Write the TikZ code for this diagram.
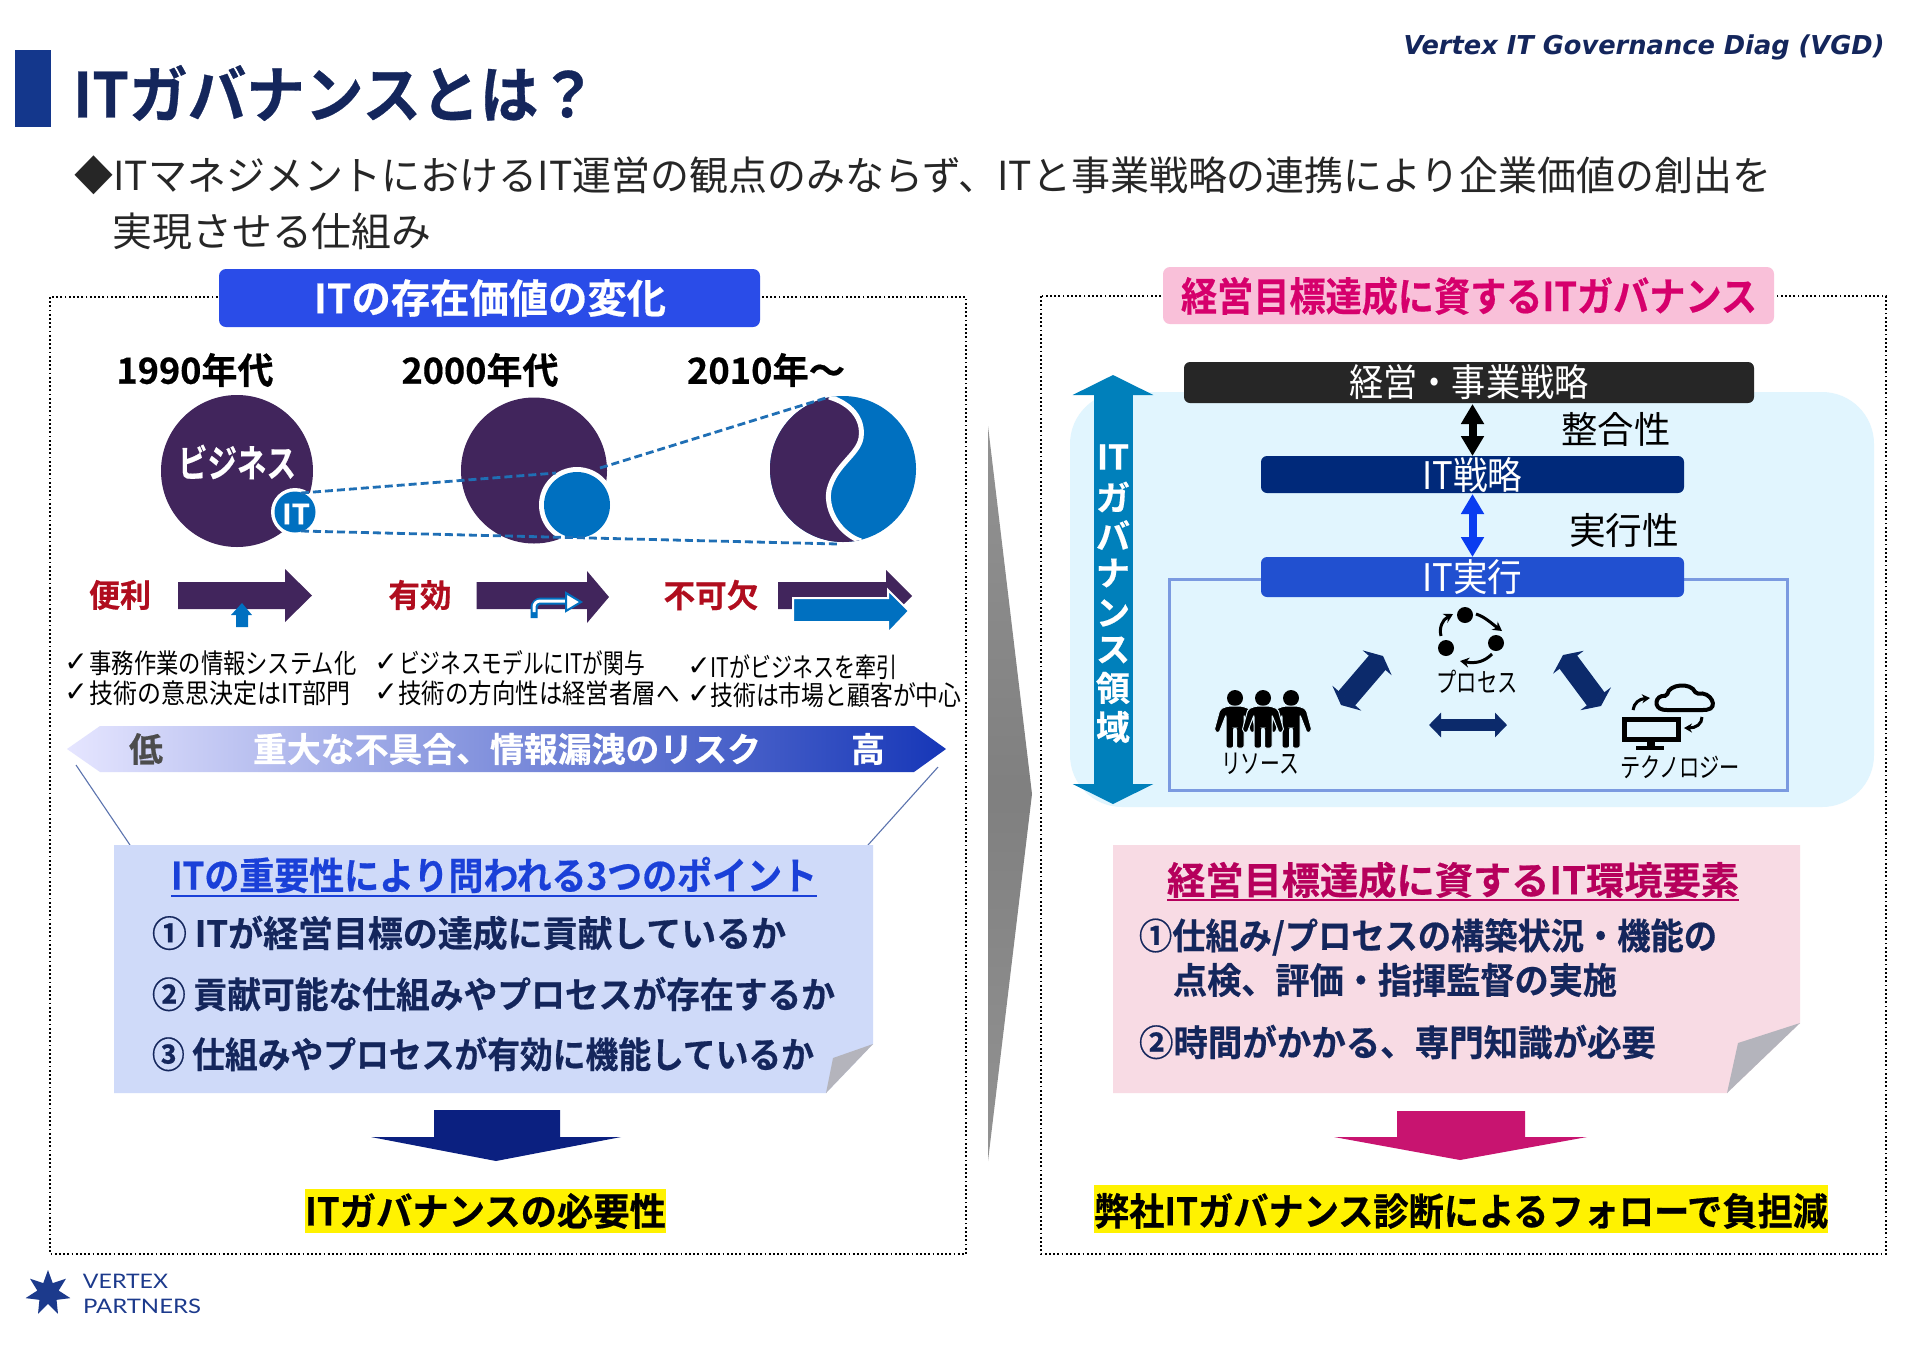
\documentclass[tikz,border=0pt]{standalone}
\usepackage{fontspec}
\usepackage{graphicx}
\usetikzlibrary{arrows.meta,shapes.geometric}
\setmainfont{Noto Sans CJK JP}[BoldFont=* Bold,BoldFeatures={FakeBold=0.5}]
\newfontfamily\djv{DejaVu Sans}
\newfontfamily\vgd{DejaVu Sans}[BoldItalicFont=* Bold Oblique]
\newfontfamily\lato{Lato}
\newcommand\F[3]{\fontsize{#2pt}{#2pt}\selectfont\resizebox{#1pt}{\height}{#3}}
\definecolor{titlebar}{HTML}{14378C}
\definecolor{navy}{HTML}{14265C}
\definecolor{purp}{HTML}{41255C}
\definecolor{itblue}{HTML}{0070C0}
\definecolor{darkred}{HTML}{B00D1E}
\definecolor{lnote}{HTML}{CFDAF9}
\definecolor{rnote}{HTML}{F8DBE4}
\definecolor{panel}{HTML}{E1F5FE}
\definecolor{deep}{HTML}{0C2A6B}
\definecolor{vbar}{HTML}{0080BB}
\definecolor{lhead}{HTML}{2A4CE8}
\definecolor{rhead}{HTML}{F9C0D9}
\definecolor{rheadtx}{HTML}{D6006C}
\definecolor{bar1}{HTML}{262626}
\definecolor{bar2}{HTML}{00297A}
\definecolor{bar3}{HTML}{2150D0}
\definecolor{frameb}{HTML}{7B9AE0}
\definecolor{ulblue}{HTML}{1A40D8}
\definecolor{magarrow}{HTML}{C81470}
\definecolor{downnavy}{HTML}{0B2080}
\definecolor{foldg}{HTML}{B4B4BC}
\definecolor{logoblue}{HTML}{1C3A8C}
\definecolor{arrblue}{HTML}{0A3CF0}
\definecolor{dashc}{HTML}{1F6FB5}
\tikzset{
 tx/.style={inner sep=0pt,outer sep=0pt,anchor=center},
 bx/.style={tx,font=\bfseries},
 wt/.style={bx,text=white},
 dotbox/.style={draw=black,line width=1.8pt,dash pattern=on 1.8pt off 2.4pt},
 dashlink/.style={draw=dashc,line width=2.8pt,dash pattern=on 8pt off 4pt},
 barbox/.style={rounded corners=6pt,minimum height=#1,inner sep=0pt,outer sep=0pt,anchor=center,text=white},
}
\newcommand\person[1]{%
\begin{scope}[shift={(#1,706)}]
 \fill[black] (0,-8) circle (8pt);
 \path[fill=black,draw=panel,line width=1pt,rounded corners=2pt] (-7,0) -- (7,0) -- (15,3) -- (21,25) -- (16,27) -- (9,9) -- (9,42) -- (1.5,42) -- (1.5,22) -- (-1.5,22) -- (-1.5,42) -- (-9,42) -- (-9,9) -- (-16,27) -- (-21,25) -- (-15,3) -- cycle;
\end{scope}}
\newcommand\dbl[6]{% from,to,col,shaftw,headw,headlen
 \draw[#3,line width=#4,{Triangle[width=#5,length=#6]}-{Triangle[width=#5,length=#6]}] (#1) -- (#2);}
\begin{document}
\begin{tikzpicture}[x=1pt,y=-1pt]
\useasboundingbox (0,0) rectangle (1910,1350);
\fill[white] (0,0) rectangle (1910,1350);
% title
\fill[titlebar] (15,50) rectangle (51,127);
\node[bx,text=navy] (title) at (335,93) {\F{524}{62}{ITガバナンスとは？}};
\node[tx,text=navy,font=\vgd\bfseries\itshape] (hdr) at (1644,47) {\F{481}{26}{Vertex IT Governance Diag (VGD)}};
\node[tx,text=black!85] (sub1) at (923,175) {\F{1697}{40}{◆ITマネジメントにおけるIT運営の観点のみならず、ITと事業戦略の連携により企業価値の創出を}};
\node[tx,text=black!85] (sub2) at (272,231) {\F{319}{40}{実現させる仕組み}};
% outer boxes
\path[dotbox] (50,297) rectangle (966,1254);
\path[dotbox] (1041,296) rectangle (1886,1254);
% left header
\fill[lhead,rounded corners=7pt] (219,269) rectangle (760,327);
\node[wt] (lh) at (490,298) {\F{352}{40}{ITの存在価値の変化}};
% right header
\fill[rhead,rounded corners=7pt] (1163,267) rectangle (1774,324);
\node[bx,text=rheadtx] (rh) at (1469,296) {\F{576}{40}{経営目標達成に資するITガバナンス}};
% years
\node[bx,text=black] (y1) at (195,370) {\F{157}{36}{1990年代}};
\node[bx,text=black] (y2) at (480,370) {\F{157}{36}{2000年代}};
\node[bx,text=black] (y3) at (766,370) {\F{158}{36}{2010年～}};
% circles
\fill[purp] (237,471) circle (76pt);
\fill[white] (295,512) circle (24pt);
\fill[itblue] (295,512) circle (20.5pt);
\node[wt] (bz) at (237,462) {\F{118}{38}{ビジネス}};
\node[wt] (it0) at (296,514) {\F{28}{28}{IT}};
\fill[purp] (534,470.5) circle (73pt);
\fill[white] (577,505) circle (38pt);
\fill[itblue] (577,505) circle (33pt);
% third circle
\fill[itblue] (843,469) circle (73pt);
\begin{scope}
 \clip (843,469) circle (73pt);
 \fill[purp] (740,380) -- (829,397) .. controls (850,403) and (864,418) .. (861,438) .. controls (858,455) and (835,465) .. (829,490) .. controls (825,512) and (842,535) .. (861,541) -- (861,560) -- (740,560) -- cycle;
 \draw[white,line width=5pt] (829,397) .. controls (850,403) and (864,418) .. (861,438) .. controls (858,455) and (835,465) .. (829,490) .. controls (825,512) and (842,535) .. (861,541);
\end{scope}
% dashed
\coordinate (a1) at (301,493); \coordinate (a2) at (556,473);
\coordinate (a3) at (600,468); \coordinate (a4) at (829,397);
\coordinate (b1) at (301,531); \coordinate (b2) at (838,544);
\path[dashlink] (a1) -- (a2);
\path[dashlink] (a3) -- (a4);
\path[dashlink] (b1) -- (b2);
% labels row
\node[bx,text=darkred] (l1) at (120,595) {\F{62}{32}{便利}};
\node[bx,text=darkred] (l2) at (420,595) {\F{63}{32}{有効}};
\node[bx,text=darkred] (l3) at (711,595) {\F{95}{32}{不可欠}};
% block arrows
\fill[purp] (178,582) -- (285,582) -- (285,569) -- (312,595.5) -- (285,622) -- (285,609) -- (178,609) -- cycle;
\fill[itblue] (236,627) -- (236,615) -- (231,615) -- (242,603) -- (252,615) -- (248,615) -- (248,627) -- cycle;
\fill[purp] (476.5,582) -- (587,582) -- (587,571) -- (609,597) -- (587,623) -- (587,609) -- (476.5,609) -- cycle;
\draw[itblue,line width=7pt,rounded corners=7pt] (534,618) -- (534,601) -- (566,601);
\draw[white,line width=3pt,rounded corners=6pt] (534,612) -- (534,601) -- (568,601);
\path[fill=white,draw=itblue,line width=2pt] (566,593) -- (581,602) -- (566,611) -- cycle;
\fill[purp] (778,582) -- (886,582) -- (886,570) -- (912,596) -- (886,622) -- (886,609) -- (778,609) -- cycle;
\path[fill=itblue,draw=white,line width=2pt] (793,598) -- (888,598) -- (888,590) -- (909,611) -- (888,633) -- (888,622) -- (793,622) -- cycle;
% checks
\node[tx,font=\djv] (c1) at (76,663) {\fontsize{28pt}{28pt}\selectfont ✓};
\node[tx,font=\djv] (c2) at (76,693) {\fontsize{28pt}{28pt}\selectfont ✓};
\node[tx] (t1) at (223,663) {\F{267}{27}{事務作業の情報システム化}};
\node[tx] (t2) at (220,693) {\F{261}{27}{技術の意思決定はIT部門}};
\node[tx,font=\djv] (c3) at (386,663) {\fontsize{28pt}{28pt}\selectfont ✓};
\node[tx,font=\djv] (c4) at (386,693) {\fontsize{28pt}{28pt}\selectfont ✓};
\node[tx] (t3) at (522,663) {\F{246}{27}{ビジネスモデルにITが関与}};
\node[tx] (t4) at (539,693) {\F{281}{27}{技術の方向性は経営者層へ}};
\node[tx,font=\djv] (c5) at (699,667) {\fontsize{28pt}{28pt}\selectfont ✓};
\node[tx,font=\djv] (c6) at (699,695) {\fontsize{28pt}{28pt}\selectfont ✓};
\node[tx] (t5) at (804,667) {\F{187}{27}{ITがビジネスを牽引}};
\node[tx] (t6) at (836,695) {\F{251}{27}{技術は市場と顧客が中心}};
% banner
\shade[left color=blue!10!white,right color=ulblue!85!black] (67,749) -- (100,726) -- (914,726) -- (946,749) -- (914,772) -- (100,772) -- cycle;
\node[bx,text=black!70] (lo) at (146,749) {\F{34}{34}{低}};
\node[wt] (risk) at (507,749) {\F{508}{34}{重大な不具合、情報漏洩のリスク}};
\node[wt] (hi) at (868,749) {\F{34}{34}{高}};
% thin lines
\coordinate (ln1) at (76,765); \coordinate (ln2) at (130,845);
\coordinate (ln3) at (938,767); \coordinate (ln4) at (868,845);
\draw[titlebar!70,line width=1.1pt] (ln1) -- (ln2);
\draw[titlebar!70,line width=1.1pt] (ln3) -- (ln4);
% left note
\fill[lnote] (114,845) -- (873,845) -- (873,1044) -- (826,1093) -- (114,1093) -- cycle;
\fill[foldg] (873,1044) -- (826,1093) -- (833,1058) -- cycle;
\node[bx,text=ulblue] (ln) at (494,875) {\F{646}{38}{ITの重要性により問われる3つのポイント}};
\draw[ulblue,line width=2.2pt] (171,896) -- (817,896);
\node[bx,text=navy] (li1) at (469,933) {\F{634}{36}{① ITが経営目標の達成に貢献しているか}};
\node[bx,text=navy] (li2) at (493.5,994) {\F{683}{36}{② 貢献可能な仕組みやプロセスが存在するか}};
\node[bx,text=navy] (li3) at (483,1054) {\F{662}{36}{③ 仕組みやプロセスが有効に機能しているか}};
% left down arrow
\fill[downnavy] (434,1110) -- (560,1110) -- (560,1137) -- (621,1137) -- (496,1161) -- (371,1137) -- (434,1137) -- cycle;
\fill[yellow] (305,1189) rectangle (666,1233);
\node[bx,text=black] (need) at (485.5,1211) {\F{361}{38}{ITガバナンスの必要性}};
% big grey chevron
\shade[top color=gray!85,bottom color=gray!85,middle color=gray] (988,426) -- (1032,794) -- (988,1161) -- cycle;
% right panel
\fill[panel,rounded corners=52pt] (1070,392) rectangle (1874,807);
% vertical arrow
\coordinate (va) at (1113,375); \coordinate (vb) at (1113,804);
\dbl{va}{vb}{vbar}{39pt}{80pt}{20pt}
\node[wt] (v0) at (1113,457) {\F{32}{34}{IT}};
\node[wt] (v1) at (1113,497) {\fontsize{34pt}{34pt}\selectfont ガ};
\node[wt] (v2) at (1113,535) {\fontsize{34pt}{34pt}\selectfont バ};
\node[wt] (v3) at (1113,573) {\fontsize{34pt}{34pt}\selectfont ナ};
\node[wt] (v4) at (1113,613) {\fontsize{34pt}{34pt}\selectfont ン};
\node[wt] (v5) at (1113,650) {\fontsize{34pt}{34pt}\selectfont ス};
\node[wt] (v6) at (1113,688) {\fontsize{34pt}{34pt}\selectfont 領};
\node[wt] (v7) at (1113,727) {\fontsize{34pt}{34pt}\selectfont 域};
% frame
\draw[frameb,line width=3pt] (1169,579) rectangle (1787,790);
% bars
\node[barbox=41pt,fill=bar1,minimum width=570pt] (bar1n) at (1469,382.5) {\F{239}{38}{経営・事業戦略}};
\node[barbox=37pt,fill=bar2,minimum width=423pt] (bar2n) at (1472.5,474.5) {\F{100}{38}{IT戦略}};
\node[barbox=40pt,fill=bar3,minimum width=423pt] (bar3n) at (1472.5,577) {\F{100}{38}{IT実行}};
\coordinate (ac1) at (1472.5,404); \coordinate (ac2) at (1472.5,456);
\coordinate (ac3) at (1472.5,494); \coordinate (ac4) at (1472.5,557);
\dbl{ac1}{ac2}{black}{8pt}{22pt}{20pt}
\dbl{ac3}{ac4}{arrblue}{8pt}{22pt}{20pt}
\node[tx,text=black] (seigo) at (1616,429) {\F{109}{37}{整合性}};
\node[tx,text=black] (jikko) at (1624,530) {\F{110}{37}{実行性}};
\node[tx,text=black] (prc) at (1477,682) {\F{81}{27}{プロセス}};
\node[tx,text=black] (res) at (1260,764) {\F{78}{27}{リソース}};
\node[tx,text=black] (tec) at (1680,767) {\F{120}{27}{テクノロジー}};
% process icon
\begin{scope}[xshift=-3pt]
\fill[black] (1468,615) circle (8pt);
\fill[black] (1499,643) circle (8pt);
\fill[black] (1449,648) circle (8pt);
\draw[black,line width=3pt,-{Stealth[length=9pt,width=10pt]}] (1479,614) .. controls (1488,617) and (1494,623) .. (1505,631);
\draw[black,line width=3pt,-{Stealth[length=9pt,width=10pt]}] (1495,654) .. controls (1488,661) and (1480,664) .. (1463,661);
\draw[black,line width=3pt,-{Stealth[length=9pt,width=10pt]}] (1444,636) .. controls (1442,628) and (1445,620) .. (1456,614);
\end{scope}
% people
\person{1235}
\person{1291}
\person{1263}
% tech icon
\begin{scope}[xshift=-3pt]
\draw[black,line width=5pt] (1627,719) rectangle (1681,739);
\fill[black] (1650,741) rectangle (1658,746);
\fill[black] (1639,746) rectangle (1667,750);
\draw[black,line width=4pt,rounded corners=2pt] (1668,710) .. controls (1656,708) and (1658,695) .. (1670,696) .. controls (1672,684) and (1694,682) .. (1699,694) .. controls (1714,691) and (1722,708) .. (1708,710) -- cycle;
\draw[black,line width=3pt,-{Stealth[length=8pt,width=9pt]}] (1636,710) .. controls (1637,703) and (1642,699) .. (1653,698);
\draw[black,line width=3pt,-{Stealth[length=8pt,width=9pt]}] (1705,717) .. controls (1705,724) and (1699,728) .. (1687,728);
\end{scope}
% triad arrows
\coordinate (t1a) at (1341,705); \coordinate (t1b) at (1383,656);
\coordinate (t2a) at (1563,655); \coordinate (t2b) at (1601,706);
\coordinate (t3a) at (1429,725); \coordinate (t3b) at (1507,725);
\dbl{t1a}{t1b}{deep}{22pt}{38pt}{9pt}
\dbl{t2a}{t2b}{deep}{22pt}{38pt}{9pt}
\dbl{t3a}{t3b}{deep}{12pt}{24pt}{12pt}
% right note
\fill[rnote] (1113,845) -- (1800,845) -- (1800,1023) -- (1727,1093) -- (1113,1093) -- cycle;
\fill[foldg] (1800,1023) -- (1727,1093) -- (1738,1043) -- cycle;
\node[bx,text=rheadtx!85!black] (rn) at (1453,880) {\F{572}{38}{経営目標達成に資するIT環境要素}};
\draw[rheadtx!85!black,line width=2.2pt] (1167,900) -- (1739,900);
\node[bx,text=navy] (ri1) at (1428,937) {\F{578}{36}{①仕組み/プロセスの構築状況・機能の}};
\node[bx,text=navy] (ri2) at (1395,980) {\F{444}{36}{点検、評価・指揮監督の実施}};
\node[bx,text=navy] (ri3) at (1397.5,1042) {\F{517}{36}{②時間がかかる、専門知識が必要}};
% right down arrow
\fill[magarrow] (1397,1111) -- (1525,1111) -- (1525,1137) -- (1587,1137) -- (1460,1160) -- (1334,1137) -- (1397,1137) -- cycle;
\fill[yellow] (1094,1185) rectangle (1828,1233);
\node[bx,text=black] (ans) at (1461,1211) {\F{734}{38}{弊社ITガバナンス診断によるフォローで負担減}};
% logo
\node[star,star points=7,star point ratio=2.1,fill=logoblue,minimum size=46pt,inner sep=0pt] (logostar) at (48,1293) {};
\node[tx,text=logoblue,font=\lato] (lg1) at (125.5,1281) {\F{85}{20}{VERTEX}};
\node[tx,text=logoblue,font=\lato] (lg2) at (142,1306) {\F{118}{20}{PARTNERS}};
\end{tikzpicture}
\end{document}
